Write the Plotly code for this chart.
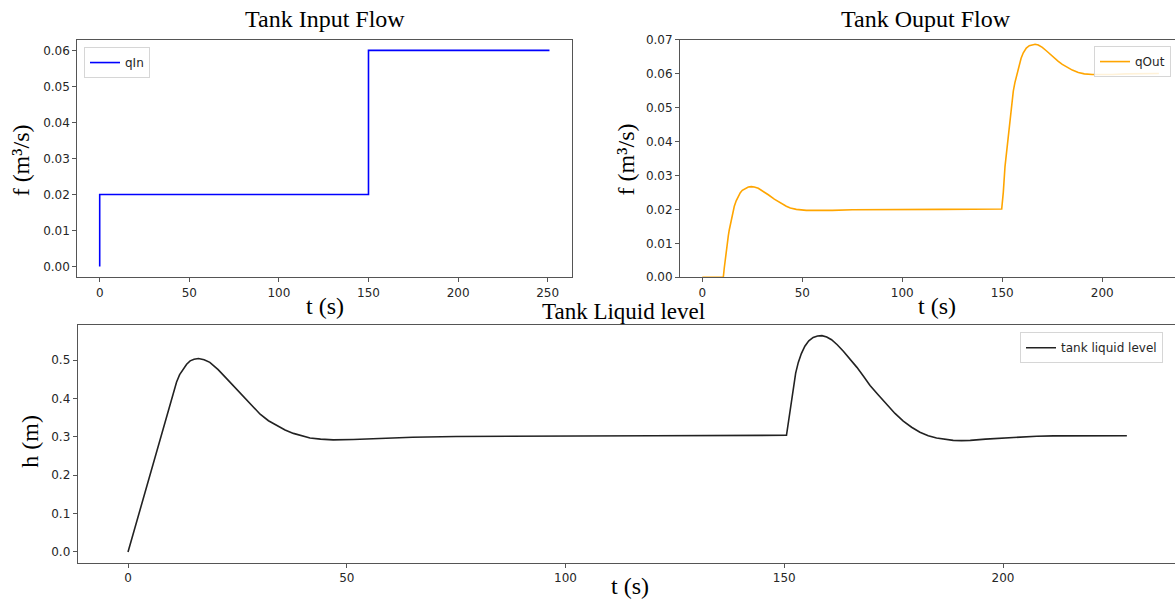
import plotly.graph_objects as go

# ---------------- data ----------------
t_in = [0, 0, 150, 150, 251]
q_in = [0.0, 0.02, 0.02, 0.06, 0.06]

t_out = [0, 10.5, 11.0, 11.5, 12.0, 12.5, 13.0, 13.5, 14.0, 14.5, 15.0, 15.5, 16.0, 17.0, 18.0,
         19.0, 20.0, 21.5, 23.0, 24.5, 26.0, 28.0, 30.0, 33.0, 36.0, 39.0, 42.0, 44.0, 47.0,
         52.0, 58.0, 65.0, 75.0, 90.0, 120.0, 149.7, 150.5, 151.35, 152.2, 153.0, 153.8,
         154.7, 155.5, 156.3, 157.2, 158.3, 159.4, 160.5, 162.0, 163.5, 165.0, 166.4, 168.0,
         170.0, 172.0, 174.0, 176.0, 178.0, 180.0, 182.5, 185.0, 188.0, 191.0, 195.0, 200.0,
         205.0, 212.0, 220.0, 228.3]
q_out = [0.0, 0.0, 0.0028, 0.0055, 0.0080, 0.0102, 0.0122, 0.0140, 0.0156, 0.0171, 0.0185,
         0.0198, 0.0209, 0.0226, 0.0239, 0.0249, 0.0256, 0.0262, 0.0266, 0.0267, 0.0266,
         0.0262, 0.0255, 0.0243, 0.0230, 0.0219, 0.0209, 0.0204, 0.0200, 0.0197, 0.0196,
         0.0197, 0.0199, 0.0200, 0.0200, 0.0201, 0.0250, 0.0326, 0.0375, 0.0422, 0.0470,
         0.0518, 0.0548, 0.0573, 0.0594, 0.0622, 0.0645, 0.0661, 0.0675, 0.0682, 0.0685,
         0.0686, 0.0684, 0.0677, 0.0667, 0.0656, 0.0645, 0.0636, 0.0627, 0.0618, 0.0610,
         0.0603, 0.0599, 0.0597, 0.0596, 0.0597, 0.0599, 0.0600, 0.0600]

t_lvl = [0, 10.0, 10.6, 11.1, 11.8, 12.6, 13.4, 14.2, 15.1, 16.1, 17.4, 18.7, 19.6, 20.6, 22.6,
         24.5, 26.4, 28.3, 30.2, 32.1, 34.0, 35.9, 37.8, 39.7, 41.6, 44.0, 46.9, 51.5, 57.6,
         65.0, 75.0, 90.0, 120.0, 150.5, 151.3, 152.1, 152.6, 153.2, 153.9, 154.7, 155.6,
         156.6, 157.6, 158.6, 159.7, 160.8, 162.1, 163.5, 165.0, 166.6, 168.1, 169.6, 171.5,
         173.4, 175.3, 177.2, 179.1, 181.0, 182.9, 184.8, 186.7, 188.6, 190.5, 192.5, 196.0,
         200.1, 203.9, 207.7, 211.5, 215.3, 228.3]
h_lvl = [0.0, 0.400, 0.424, 0.443, 0.462, 0.477, 0.489, 0.498, 0.502, 0.504, 0.501, 0.494,
         0.486, 0.475, 0.451, 0.428, 0.405, 0.381, 0.359, 0.342, 0.329, 0.318, 0.309, 0.302,
         0.297, 0.294, 0.292, 0.293, 0.296, 0.299, 0.301, 0.302, 0.303, 0.304, 0.367, 0.434,
         0.466, 0.494, 0.517, 0.536, 0.550, 0.559, 0.5628, 0.5636, 0.560, 0.553, 0.540, 0.523,
         0.503, 0.481, 0.458, 0.434, 0.409, 0.384, 0.361, 0.341, 0.325, 0.312, 0.303, 0.297,
         0.293, 0.2907, 0.2902, 0.2907, 0.294, 0.297, 0.2995, 0.3016, 0.3026, 0.3030, 0.3030]

x_ticks = [0, 50, 100, 150, 200, 250]

# ---------------- layout helpers ----------------
W, H = 1175, 604
def px(x):
    return x / W
def py(y):
    return 1 - y / H

SERIF = "Liberation Serif, Times New Roman, serif"
SANS = "DejaVu Sans, sans-serif"
LINE = "#555555"
TXT = "#262626"

fig = go.Figure()
fig.add_trace(go.Scatter(x=t_in, y=q_in, mode="lines", name="qIn", showlegend=True,
                         line=dict(color="#0000ff", width=1.6), xaxis="x", yaxis="y",
                         legend="legend"))
fig.add_trace(go.Scatter(x=t_out, y=q_out, mode="lines", name="qOut", showlegend=True,
                         line=dict(color="#ffa500", width=1.6),
                         xaxis="x2", yaxis="y2", legend="legend2"))
fig.add_trace(go.Scatter(x=t_lvl, y=h_lvl, mode="lines", name="tank liquid level",
                         showlegend=True, line=dict(color="#222222", width=1.6),
                         xaxis="x3", yaxis="y3", legend="legend3"))

ax_common = dict(showgrid=False, zeroline=False, showline=True, linecolor=LINE, linewidth=1,
                 ticks="outside", ticklen=4, tickcolor=LINE, tickwidth=1,
                 tickfont=dict(family=SANS, size=12, color=TXT))

leg_common = dict(bgcolor="rgba(255,255,255,0.85)", bordercolor="#d6d6d6", borderwidth=1,
                  font=dict(family=SANS, size=12, color=TXT), itemwidth=30,
                  xanchor="left", yanchor="top")

fig.update_layout(
    width=W, height=H, margin=dict(l=0, r=0, t=0, b=0),
    showlegend=True,
    paper_bgcolor="white", plot_bgcolor="white",
    xaxis=dict(domain=[px(77.3), px(571.7)], range=[-12.5, 263.4], tickvals=x_ticks,
               anchor="y", mirror=True, **ax_common),
    yaxis=dict(domain=[py(276.7), py(33.3)], range=[-0.003, 0.063], dtick=0.01,
               tickformat=".2f", anchor="x", mirror=True, **ax_common),
    xaxis2=dict(domain=[px(680), 1.0], range=[-11.15, 236.35], tickvals=x_ticks[:5],
                anchor="y2", mirror=True, **ax_common),
    yaxis2=dict(domain=[py(276.7), py(33.3)], range=[0, 0.07], dtick=0.01,
                tickformat=".2f", anchor="x2", mirror=False, **ax_common),
    xaxis3=dict(domain=[px(77.7), 1.0], range=[-11.5, 239.3], tickvals=x_ticks[:5],
                anchor="y3", mirror=True, **ax_common),
    yaxis3=dict(domain=[py(569), py(325.7)], range=[-0.0282, 0.591], dtick=0.1,
                tickformat=".1f", anchor="x3", mirror=False, **ax_common),
    legend=dict(x=px(84), y=py(41), **leg_common),
    legend2=dict(x=px(1094), y=py(40), **leg_common),
    legend3=dict(x=px(1020), y=py(333), **leg_common),
)

def label(text, x, y, angle=0, size=24):
    fig.add_annotation(text=text, x=px(x), y=py(y), xref="paper", yref="paper",
                       showarrow=False, textangle=angle, xanchor="center", yanchor="middle",
                       font=dict(family=SERIF, size=size, color="black"))

label("Tank Input Flow", 325, 12)
label("Tank Ouput Flow", 926, 12)
label("Tank Liquid level", 623, 312, size=23)
label("t (s)", 325, 306)
label("t (s)", 937, 306)
label("t (s)", 630, 593)
label("f (m³/s)", 21, 157, -90)
label("f (m³/s)", 626, 156, -90)
label("h (m)", 30, 445, -90)

fig.write_html("out.html", post_script="document.body.style.margin='0px';",
               config={"displayModeBar": False})
